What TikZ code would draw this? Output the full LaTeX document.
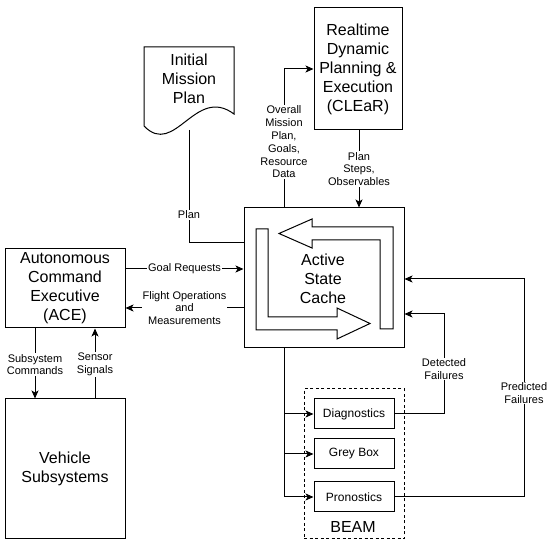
\documentclass[tikz,border=0pt]{standalone}
\usepackage{fontspec}
\setmainfont{Liberation Sans}
\usetikzlibrary{arrows.meta,calc}
\begin{document}
\begin{tikzpicture}[x=1pt,y=-1pt,
  line width=1pt,
  box/.style={draw, line width=1pt, inner sep=0pt, align=center},
  big/.style={font=\fontsize{16}{19}\selectfont, align=center},
  mid/.style={font=\fontsize{12}{14}\selectfont, align=center},
  lbl/.style={font=\fontsize{11}{12.8}\selectfont, align=center, fill=white, inner sep=1pt},
  arr/.style={-{Stealth[length=8pt,width=7pt,inset=2pt]}}
]
\useasboundingbox (0,0) rectangle (550,545);

% Realtime planning box
\node[box, big, minimum width=88pt, minimum height=122pt] (rt) at (358,69)
  {Realtime\\Dynamic\\Planning \&\\Execution\\(CLEaR)};

% Initial Mission Plan document shape
\draw (144,126) -- (144,47) -- (234,47) -- (234,114)
  .. controls (195,85) and (175,158) .. (144,126) -- cycle;
\node[big] (imp) at (189,79) {Initial\\Mission\\Plan};
\coordinate (impbot) at (189,130);

% Active State Cache
\node[box, minimum width=160pt, minimum height=140pt] (asc) at (324,278) {};
\node[big] (asctxt) at (323,279) {Active\\State\\Cache};
\draw (393,329) -- (393,227) -- (312,227) -- (312,219) -- (279,233.5)
  -- (312,248) -- (312,240) -- (380,240) -- (380,329) -- cycle;
\draw (256,229) -- (268,229) -- (268,317) -- (337,317) -- (337,308)
  -- (370,323.5) -- (337,339) -- (337,330) -- (256,330) -- cycle;

% ACE and vehicle
\node[box, big, minimum width=120pt, minimum height=79pt] (ace) at (65,288.5)
  {Autonomous\\Command\\Executive\\(ACE)};
\node[box, big, minimum width=120pt, minimum height=140pt] (veh) at (65,469)
  {Vehicle\\Subsystems};

% BEAM
\node[draw, dash pattern=on 3pt off 2.5pt, line width=1pt, minimum width=100pt, minimum height=150pt] (beam) at (354,464) {};
\node[box, mid, minimum width=80pt, minimum height=30pt] (diag) at (354,414) {Diagnostics};
\node[box, mid, minimum width=80pt, minimum height=30pt] (grey) at (354,454) {Grey Box};
\node[box, mid, minimum width=80pt, minimum height=30pt] (pron) at (354,497) {Pronostics};
\node[font=\fontsize{16}{19}\selectfont] (beamlbl) at (353,527) {BEAM};

% Connectors
\draw[arr] (asc.north -| 284,0) |- (rt.west);
\node[lbl] (ovlbl) at (284,142) {Overall\\Mission\\Plan,\\Goals,\\Resource\\Data};
\draw[arr] (rt.south -| 359,0) -- (asc.north -| 359,0);
\node[lbl] (pslbl) at (359,169) {Plan\\Steps,\\Observables};
\draw (impbot) |- (asc.west |- 0,243);
\node[lbl] (planlbl) at (189,215) {Plan};
\draw[arr] (ace.east |- 0,269) -- (asc.west |- 0,269) node[lbl, midway] {Goal Requests};
\draw[arr] (asc.west |- 0,308) -- (ace.east |- 0,308) node[lbl, midway] {Flight Operations\\and\\Measurements};
\draw[arr] (ace.south -| 35,0) -- (veh.north -| 35,0) node[lbl, midway, yshift=-1pt] {Subsystem\\Commands};
\draw[arr] (veh.north -| 95,0) -- (ace.south -| 95,0) node[lbl, midway, yshift=-1pt] {Sensor\\Signals};

% trunk to BEAM
\coordinate (t1) at (284,414);
\coordinate (t2) at (284,454);
\draw[arr] (asc.south -| 284,0) |- (pron.west);
\draw[arr] (t1) -- (diag.west);
\draw[arr] (t2) -- (grey.west);

% failures feedback
\coordinate (dcorner) at (444,314);
\coordinate (pcorner) at (524,279);
\draw[arr] (diag.east) -| (dcorner) -- (asc.east |- dcorner);
\node[lbl] (dlbl) at (444,369) {Detected\\Failures};
\draw[arr] (pron.east) -| (pcorner) -- (asc.east |- pcorner);
\node[lbl] (plbl) at (524,393) {Predicted\\Failures};
\end{tikzpicture}
\end{document}
